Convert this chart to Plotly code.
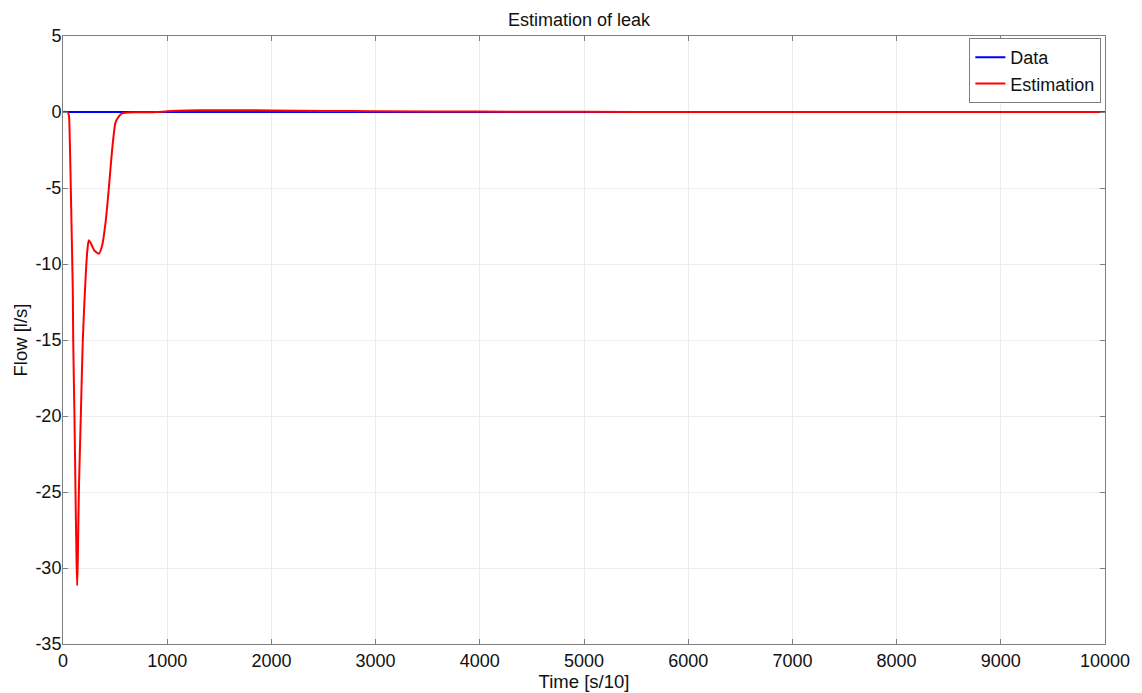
import plotly.graph_objects as go

# Data
time_est = [0, 40, 56, 64, 72, 82, 94, 98, 110, 120, 130, 136, 142, 152, 171, 190, 216,
            235, 248, 265, 300, 344, 375, 408, 440, 472, 504, 540, 568, 620, 700, 800,
            900, 1000, 1200, 1400, 1700, 2000, 2500, 3000, 4000, 5000, 6000, 7000, 8000,
            9000, 10000]
estimation = [0, 0, -0.2, -1.5, -4.0, -7.5, -11.7, -15, -20, -25, -29.5, -31.15, -29.5,
              -25, -20, -15, -11, -9, -8.44, -8.6, -9.1, -9.32, -8.8, -7.3, -5.0, -2.46,
              -0.7, -0.25, -0.09, -0.03, -0.02, -0.02, 0.0, 0.05, 0.1, 0.12, 0.12, 0.1,
              0.07, 0.05, 0.03, 0.01, 0.005, 0, 0, 0, 0]
time_data = [0, 10000]
data_vals = [0, 0]

x_ticks = [0, 1000, 2000, 3000, 4000, 5000, 6000, 7000, 8000, 9000, 10000]
x_ticktext = ["0", "1000", "2000", "3000", "4000", "5000", "6000", "7000", "8000",
              "9000", "10000"]
y_ticks = [5, 0, -5, -10, -15, -20, -25, -30, -35]
y_ticktext = ["5", "0", "-5", "-10", "-15", "-20", "-25", "-30", "-35"]

FONT = "Liberation Sans, Arial, sans-serif"

fig = go.Figure()
fig.add_trace(go.Scatter(x=time_data, y=data_vals, mode="lines", name="Data",
                         line=dict(color="#0000ff", width=2)))
fig.add_trace(go.Scatter(x=time_est, y=estimation, mode="lines", name="Estimation",
                         line=dict(color="#ff0000", width=2, shape="spline", smoothing=0.6)))

axis_common = dict(showline=True, linecolor="#7f7f7f", linewidth=1, mirror="ticks",
                   ticks="inside", ticklen=5, tickcolor="#7f7f7f",
                   showgrid=True, gridcolor="#ececec", gridwidth=1,
                   zeroline=False, automargin=False,
                   tickfont=dict(size=18, color="#111111", family=FONT))

fig.update_layout(
    width=1142, height=693,
    paper_bgcolor="white", plot_bgcolor="white",
    margin=dict(l=55, r=45, t=28, b=57),
    font=dict(family=FONT, color="#111111", size=18),
    title=dict(text="Estimation of leak", x=0.5, xanchor="center", y=0.983, yanchor="middle",
               font=dict(size=18, family=FONT)),
    xaxis=dict(range=[0, 10000], tickvals=x_ticks, ticktext=x_ticktext,
               title=dict(text="Time [s/10]", standoff=0, font=dict(size=18.5)), **axis_common),
    yaxis=dict(range=[-35, 5], tickvals=y_ticks, ticktext=y_ticktext,
               ticklabelstandoff=-3,
               title=dict(text="Flow [l/s]", standoff=2, font=dict(size=18.5)), **axis_common),
    legend=dict(x=0.9965, y=0.9967, xanchor="right", yanchor="top",
                bgcolor="white", bordercolor="#7f7f7f", borderwidth=1,
                font=dict(size=18, family=FONT), itemwidth=30,
                tracegroupgap=0),
    showlegend=True,
)

fig.write_html("out.html")
